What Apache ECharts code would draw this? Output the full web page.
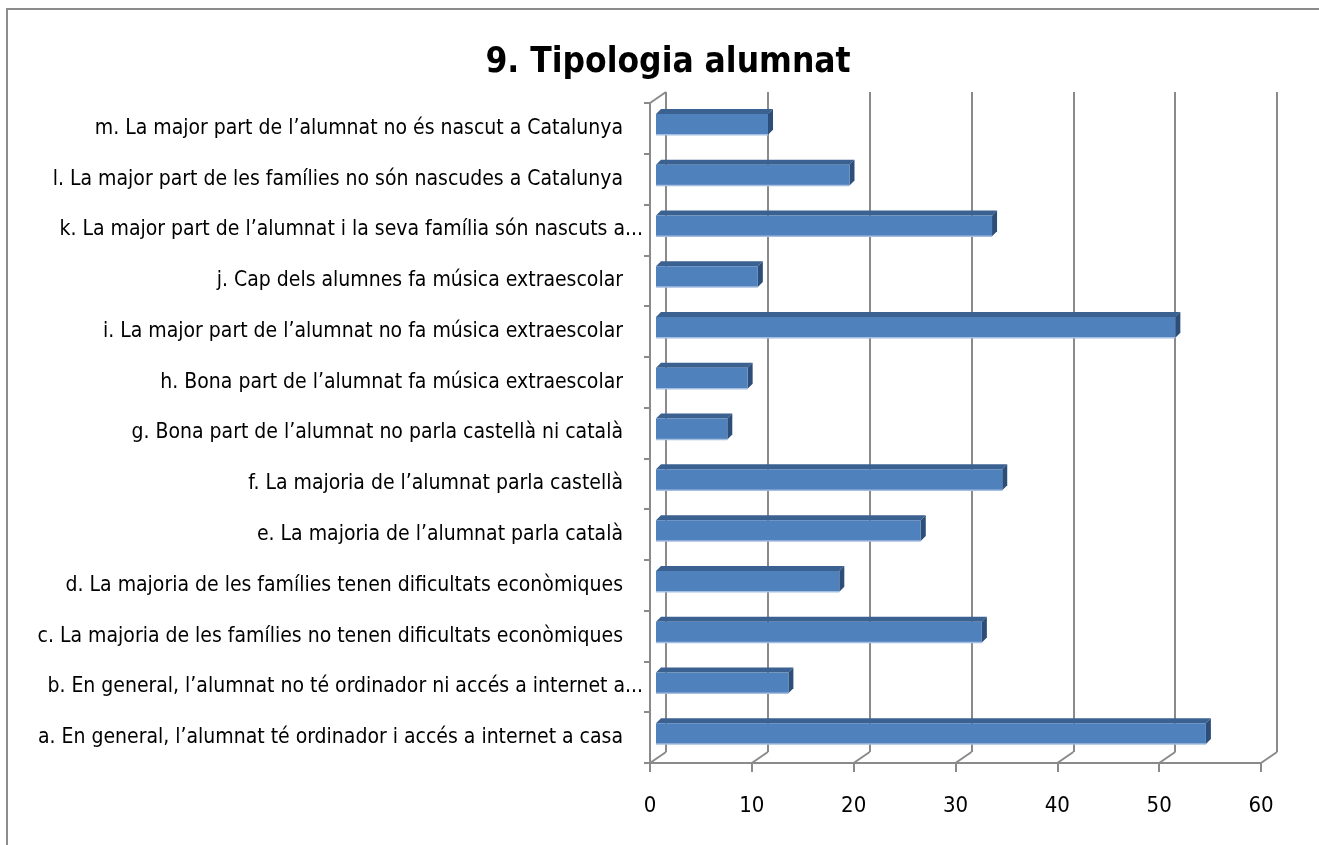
<!DOCTYPE html>
<html>
<head>
<meta charset="utf-8">
<script src="https://cdn.jsdelivr.net/npm/echarts@6/dist/echarts.min.js"></script>
<style>
  html, body { margin: 0; padding: 0; background: #fff; }
  #chart { width: 1319px; height: 845px; }
</style>
</head>
<body>
<div id="chart"></div>
<script>
  // categories bottom to top, as the value axis draws them
  const categories = [
    'a. En general, l’alumnat té ordinador i accés a internet a casa',
    'b. En general, l’alumnat no té ordinador ni accés a internet a...',
    'c. La majoria de les famílies no tenen dificultats econòmiques',
    'd. La majoria de les famílies tenen dificultats econòmiques',
    'e. La majoria de l’alumnat parla català',
    'f. La majoria de l’alumnat parla castellà',
    'g. Bona part de l’alumnat no parla castellà ni català',
    'h. Bona part de l’alumnat fa música extraescolar',
    'i. La major part de l’alumnat no fa música extraescolar',
    'j. Cap dels alumnes fa música extraescolar',
    'k. La major part de l’alumnat i la seva família són nascuts a...',
    'l. La major part de les famílies no són nascudes a Catalunya',
    'm. La major part de l’alumnat no és nascut a Catalunya',
  ];
  const values = [54, 13, 32, 18, 26, 34, 7, 9, 51, 10, 33, 19, 11];
  const xTicks = [0, 10, 20, 30, 40, 50, 60];

  const FONT = '"Liberation Sans Narrow", "DejaVu Sans Condensed", sans-serif';
  const GRID_GRAY = '#8a8a8a';
  // 3d wall offset
  const WALL_DX = 16;
  const WALL_DY = -11;

  const chart = echarts.init(document.getElementById('chart'));

  const renderBar = (params, api) => {
    const c0 = api.coord([0, api.value(1)]);
    const c1 = api.coord([api.value(0), api.value(1)]);
    const band = api.size([0, 1])[1];
    const h = band * 0.41;
    const d = 5;
    const cy = c1[1] - 4;
    const x0 = c0[0] + 6;
    const x1 = c1[0] + 6;
    const y0 = cy - h / 2;
    const y1 = cy + h / 2;
    return {
      type: 'group',
      children: [
        {
          type: 'polygon',
          shape: { points: [[x0, y0], [x0 + d, y0 - d], [x1 + d, y0 - d], [x1, y0]] },
          style: { fill: '#3b6190' },
        },
        {
          type: 'polygon',
          shape: { points: [[x1, y0], [x1 + d, y0 - d], [x1 + d, y1 - d], [x1, y1]] },
          style: { fill: '#2d4e78' },
        },
        {
          type: 'rect',
          shape: { x: x0, y: y0, width: x1 - x0, height: h },
          style: { fill: '#4f81bd' },
        },
        {
          type: 'line',
          shape: { x1: x0, y1: y1, x2: x1, y2: y1 },
          style: { stroke: '#a4bde0', lineWidth: 1.5 },
        },
      ],
    };
  };

  const renderFloor = (params, api) => {
    const x = api.coord([api.value(0), 0])[0];
    const y = params.coordSys.y + params.coordSys.height;
    return {
      type: 'line',
      shape: { x1: x, y1: y, x2: x + WALL_DX, y2: y + WALL_DY },
      style: { stroke: GRID_GRAY, lineWidth: 2 },
    };
  };

  const renderWallTop = (params, api) => {
    const x = params.coordSys.x;
    const y = params.coordSys.y;
    return {
      type: 'line',
      shape: { x1: x, y1: y, x2: x + WALL_DX, y2: y + WALL_DY },
      style: { stroke: GRID_GRAY, lineWidth: 2 },
    };
  };

  const option = {
    animation: false,
    backgroundColor: '#fff',
    title: {
      text: '9. Tipologia alumnat',
      left: 663,
      textAlign: 'center',
      top: 40,
      textStyle: { fontFamily: FONT, fontSize: 35, fontWeight: 'bold', color: '#000' },
    },
    graphic: [
      {
        type: 'rect',
        shape: { x: 7, y: 9, width: 1400, height: 900 },
        style: { fill: 'none', stroke: '#8c8c8c', lineWidth: 2 },
        z: 0,
      },
    ],
    grid: [
      { left: 650, top: 103, width: 611, height: 660 },
      { left: 650 + WALL_DX, top: 103 + WALL_DY, width: 611, height: 660 },
    ],
    xAxis: [
      {
        gridIndex: 0,
        type: 'value',
        min: 0,
        max: 60,
        interval: 10,
        axisLine: { show: true, lineStyle: { color: GRID_GRAY, width: 2 } },
        axisTick: { show: true, length: 9, lineStyle: { color: GRID_GRAY, width: 2 } },
        axisLabel: {
          margin: 32,
          fontFamily: FONT,
          fontSize: 22,
          color: '#000',
          formatter: (v) => (xTicks.includes(v) ? String(v) : ''),
        },
        splitLine: { show: false },
      },
      {
        gridIndex: 1,
        type: 'value',
        min: 0,
        max: 60,
        interval: 10,
        axisLine: { show: false },
        axisTick: { show: false },
        axisLabel: { show: false },
        splitLine: { show: true, lineStyle: { color: GRID_GRAY, width: 2 } },
      },
    ],
    yAxis: [
      {
        gridIndex: 0,
        type: 'category',
        data: categories,
        axisLine: { show: true, lineStyle: { color: GRID_GRAY, width: 2 } },
        axisTick: { show: true, length: 6, lineStyle: { color: GRID_GRAY, width: 2 } },
        axisLabel: {
          margin: 7,
          fontFamily: FONT,
          fontSize: 21,
          color: '#000',
          formatter: (v) => (v.endsWith('...') ? v : '{p|' + v + '}'),
          rich: {
            p: { fontFamily: FONT, fontSize: 21, color: '#000', padding: [0, 20, 0, 0] },
          },
        },
      },
      {
        gridIndex: 1,
        type: 'category',
        data: categories,
        show: false,
      },
    ],
    series: [
      {
        type: 'custom',
        xAxisIndex: 0,
        yAxisIndex: 0,
        renderItem: renderFloor,
        data: xTicks.map((v) => [v, 0]),
        z: 1,
        silent: true,
      },
      {
        type: 'custom',
        xAxisIndex: 0,
        yAxisIndex: 0,
        renderItem: renderWallTop,
        data: [[0, 0]],
        z: 1,
        silent: true,
      },
      {
        type: 'custom',
        xAxisIndex: 0,
        yAxisIndex: 0,
        renderItem: renderBar,
        data: values.map((v, i) => [v, i]),
        z: 3,
      },
    ],
  };

  chart.setOption(option);
</script>
</body>
</html>
